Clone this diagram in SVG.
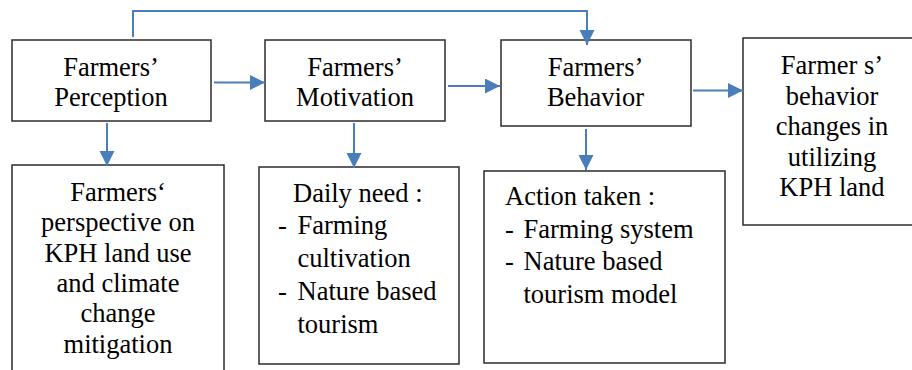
<svg xmlns="http://www.w3.org/2000/svg" width="912" height="370" viewBox="0 0 912 370">
  <style>
    .box { fill: #ffffff; stroke: #2b2b2b; stroke-width: 1.5; }
    .lbl { font-size: 26.5px; fill: #000000; }
    .c { text-anchor: middle; }
    .link { fill: none; stroke: #4a7ebb; stroke-width: 2; }
  </style>
  <defs>
    <marker id="head" markerUnits="userSpaceOnUse" markerWidth="16" markerHeight="16" refX="15" refY="7.5" orient="auto">
      <path d="M0,0 L15,7.5 L0,15 z" fill="#4a7ebb"/>
    </marker>
  </defs>
  <rect width="912" height="370" fill="#ffffff"/>

  <g font-family="'Liberation Serif', serif">
  <g id="n-perception">
    <rect class="box" x="12" y="40" width="199" height="81"/>
    <text class="lbl c" x="111" y="76">Farmers’</text>
    <text class="lbl c" x="111" y="106">Perception</text>
  </g>

  <g id="n-motivation">
    <rect class="box" x="265" y="40" width="180" height="81"/>
    <text class="lbl c" x="355" y="76">Farmers’</text>
    <text class="lbl c" x="355" y="106">Motivation</text>
  </g>

  <g id="n-behavior">
    <rect class="box" x="501" y="40" width="190" height="86"/>
    <text class="lbl c" x="595.5" y="75.5">Farmers’</text>
    <text class="lbl c" x="595.5" y="105.5">Behavior</text>
  </g>

  <g id="n-changes">
    <rect class="box" x="743" y="38" width="176" height="187"/>
    <text class="lbl c" x="832" y="74">Farmer s’</text>
    <text class="lbl c" x="832" y="104.5">behavior</text>
    <text class="lbl c" x="832" y="135">changes in</text>
    <text class="lbl c" x="832" y="165.5">utilizing</text>
    <text class="lbl c" x="832" y="196">KPH land</text>
  </g>

  <g id="n-perspective">
    <rect class="box" x="12" y="165" width="212" height="215"/>
    <text class="lbl c" x="118" y="201">Farmers‘</text>
    <text class="lbl c" x="118" y="231.3">perspective on</text>
    <text class="lbl c" x="118" y="261.6">KPH land use</text>
    <text class="lbl c" x="118" y="291.9">and climate</text>
    <text class="lbl c" x="118" y="322.2">change</text>
    <text class="lbl c" x="118" y="352.5">mitigation</text>
  </g>

  <g id="n-daily-need">
    <rect class="box" x="259" y="167" width="200" height="197"/>
    <text class="lbl" x="293" y="201.5">Daily need :</text>
    <text class="lbl" x="278" y="234">-</text>
    <text class="lbl" x="297.5" y="234">Farming</text>
    <text class="lbl" x="297.5" y="266.5">cultivation</text>
    <text class="lbl" x="278" y="300">-</text>
    <text class="lbl" x="297.5" y="300">Nature based</text>
    <text class="lbl" x="297.5" y="333">tourism</text>
  </g>

  <g id="n-action">
    <rect class="box" x="484" y="171" width="241" height="192"/>
    <text class="lbl" x="505" y="205">Action taken :</text>
    <text class="lbl" x="505" y="237.5">-</text>
    <text class="lbl" x="523.5" y="237.5">Farming system</text>
    <text class="lbl" x="505" y="270">-</text>
    <text class="lbl" x="523.5" y="270">Nature based</text>
    <text class="lbl" x="523.5" y="302.5">tourism model</text>
  </g>
  </g>

  <g id="connectors">
    <path class="link" d="M133,37 V11 H587 V45" marker-end="url(#head)"/>
    <path class="link" d="M214,82.5 H265" marker-end="url(#head)"/>
    <path class="link" d="M448,86 H500" marker-end="url(#head)"/>
    <path class="link" d="M693,90.5 H743" marker-end="url(#head)"/>
    <path class="link" d="M107,123 V166" marker-end="url(#head)"/>
    <path class="link" d="M354,123 V168" marker-end="url(#head)"/>
    <path class="link" d="M586,129 V170" marker-end="url(#head)"/>
  </g>
</svg>
